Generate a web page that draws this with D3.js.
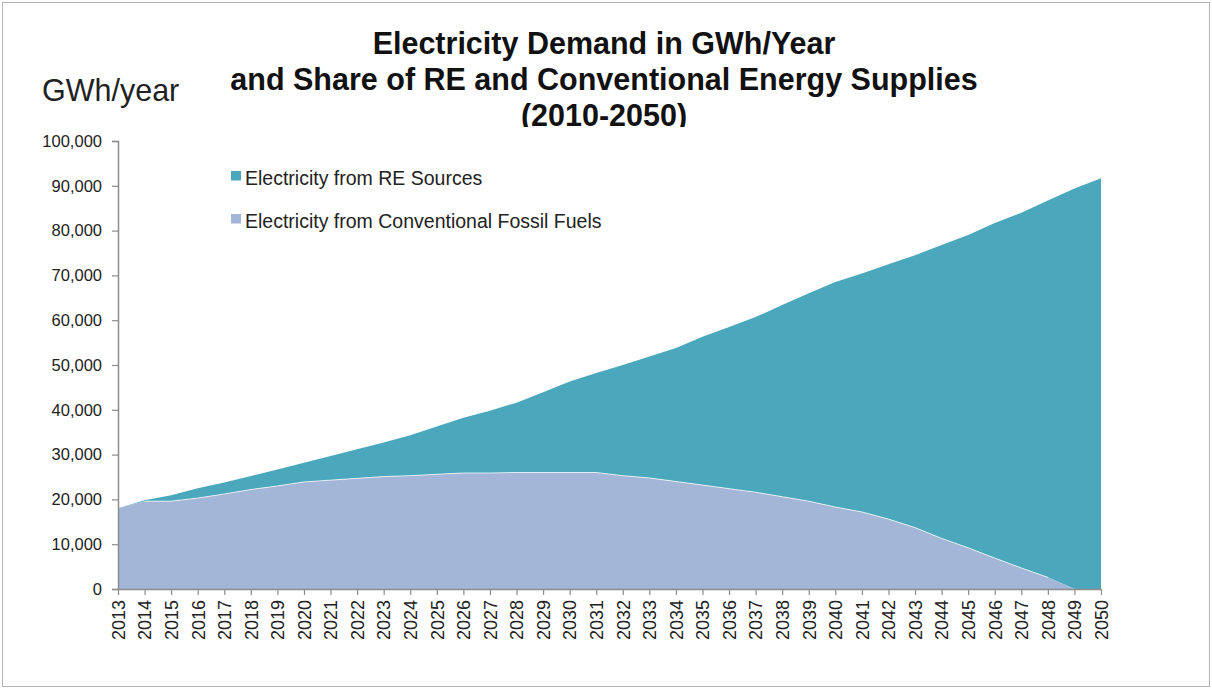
<!DOCTYPE html>
<html><head><meta charset="utf-8">
<script src="https://cdn.jsdelivr.net/npm/d3@7"></script>
<style>body{margin:0;background:#fff;}svg{display:block;font-family:"Liberation Sans",Arial,Helvetica,sans-serif;}</style>
</head><body><svg id="c" width="1212" height="689"></svg>
<script>
const years = d3.range(2013, 2051);
const conventional = [18000,19600,19600,20300,21200,22200,23000,23900,24300,24700,25100,25300,25600,25900,25900,26000,26000,26000,26000,25300,24800,24000,23200,22400,21600,20600,19600,18300,17200,15600,13700,11300,9200,6900,4700,2600,0,0];
const totalDemand = [18000,19800,20900,22500,23800,25200,26700,28200,29700,31200,32700,34300,36300,38200,39800,41600,43900,46300,48200,50000,51900,53800,56300,58500,60700,63400,66000,68500,70400,72500,74500,76800,79000,81700,84000,86700,89400,91700];
const renewable = totalDemand.map((t,i)=>t-conventional[i]);
const seriesNames = ["Electricity from Conventional Fossil Fuels","Electricity from RE Sources"];
const legendOrder = ["Electricity from RE Sources","Electricity from Conventional Fossil Fuels"];
const yTicks = [0,10000,20000,30000,40000,50000,60000,70000,80000,90000,100000];
const titleLines = ["Electricity Demand in GWh/Year","and Share of RE and Conventional Energy Supplies","(2010-2050)"];
const colors = {"Electricity from RE Sources":"#4ba8bc","Electricity from Conventional Fossil Fuels":"#a3b6d7"};

const svg = d3.select("#c");
svg.append("rect").attr("x",2.5).attr("y",2.5).attr("width",1207).attr("height",684).attr("fill","#fff").attr("stroke","#b4b4b4");

const x = d3.scaleLinear().domain([2013,2050]).range([118,1101]);
const y = d3.scaleLinear().domain([0,100000]).range([589,141]);

const table = years.map((yr,i)=>({year:yr, conv:conventional[i], re:renewable[i]}));
const stack = d3.stack().keys(["conv","re"])(table);
const area = d3.area().x(d=>x(d.data.year)).y0(d=>y(d[0])).y1(d=>y(d[1]));

svg.append("path").datum(stack[1]).attr("d",area).attr("fill",colors[seriesNames[1]]);
svg.append("path").datum(stack[0]).attr("d",area).attr("fill",colors[seriesNames[0]]);
svg.append("path").datum(stack[0]).attr("fill","none").attr("stroke","#fff").attr("stroke-opacity",0.7).attr("stroke-width",1)
  .attr("d", d3.line().x(d=>x(d.data.year)).y(d=>y(d[1])).defined((d,i)=>i>0 && i<36));

// y axis
const ya = svg.append("g").attr("transform","translate(118,0)")
  .call(d3.axisLeft(y).tickValues(yTicks).tickSize(6).tickPadding(10).tickFormat(d3.format(",")));
ya.select(".domain").attr("stroke","#8c8c8c").attr("stroke-width",1.5);
ya.selectAll(".tick line").attr("stroke","#8c8c8c").attr("stroke-width",1.2);
ya.selectAll("text").attr("font-size","16.5px").attr("fill","#222").attr("font-family","Liberation Sans, Arial, sans-serif");

// x axis
const xa = svg.append("g").attr("transform","translate(0,589)")
  .call(d3.axisBottom(x).tickValues(years).tickSize(6).tickSizeOuter(0).tickFormat(d3.format("d")));
xa.select(".domain").attr("stroke","#8c8c8c").attr("stroke-width",1.5);
xa.selectAll(".tick line").attr("stroke","#8c8c8c").attr("stroke-width",1.2);
xa.selectAll("text").attr("font-size","18px").attr("fill","#222").attr("font-family","Liberation Sans, Arial, sans-serif")
  .attr("transform","rotate(-90)").attr("text-anchor","end").attr("dy","0.35em").attr("x",-11).attr("y",0);

// title
svg.append("clipPath").attr("id","tclip").append("rect").attr("x",0).attr("y",0).attr("width",1212).attr("height",127);
const tg = svg.append("g").attr("clip-path","url(#tclip)");
titleLines.forEach((t,i)=>{
  tg.append("text").attr("x",604).attr("y",54+i*36).attr("text-anchor","middle")
    .attr("font-size","30.5px").attr("font-weight","bold").attr("fill","#111").text(t);
});
svg.append("text").attr("x",42).attr("y",101).attr("font-size","30.5px").attr("fill","#222").text("GWh/year");

// legend
legendOrder.forEach((name,i)=>{
  const g = svg.append("g").attr("transform",`translate(231,${171+i*43})`);
  g.append("rect").attr("width",10).attr("height",9.5).attr("fill",colors[name]);
  g.append("text").attr("x",14).attr("y",14).attr("font-size","19.5px").attr("fill","#222").text(name);
});
</script></body></html>
